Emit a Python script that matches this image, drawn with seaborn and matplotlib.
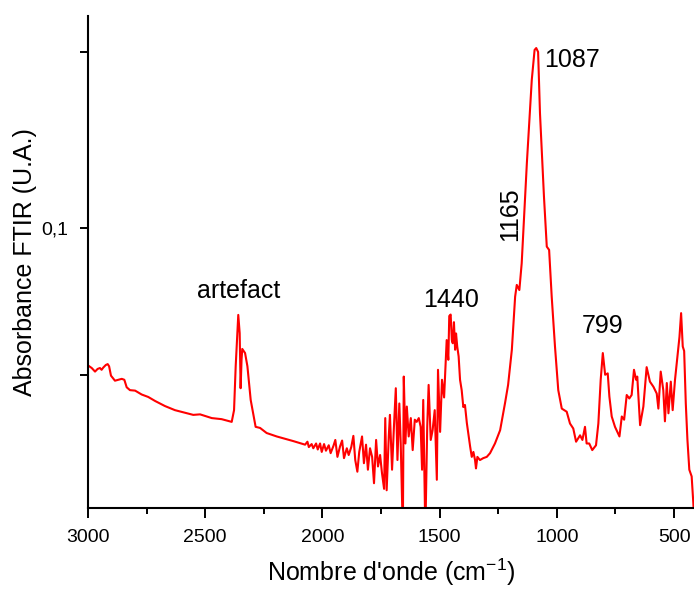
import matplotlib
matplotlib.use("Agg")
import matplotlib.pyplot as plt
from matplotlib.ticker import FixedLocator, FixedFormatter, NullFormatter
import pandas as pd
import seaborn as sns

# ---------------- data ----------------
wavenumber = [
    3000, 2984, 2970, 2959, 2949, 2942, 2935, 2924, 2916, 2910, 2902, 2885,
    2871, 2856, 2845, 2835, 2821, 2799, 2771, 2743, 2714, 2672, 2629, 2586,
    2551, 2522, 2472, 2430, 2387, 2377, 2370, 2359, 2353, 2350, 2349, 2345,
    2342, 2330, 2320, 2306, 2285, 2266, 2238, 2195, 2160, 2124, 2074,
    2064, 2058, 2046, 2039, 2027, 2020, 2010, 2003, 1993, 1985, 1973, 1965,
    1953, 1945, 1936, 1925, 1916, 1908, 1896, 1888, 1877, 1868, 1860, 1851,
    1843, 1831, 1823, 1814, 1806, 1797, 1788, 1780, 1771, 1763, 1754, 1746,
    1737, 1732, 1726, 1717, 1712, 1703, 1695, 1687, 1680, 1672, 1666, 1657,
    1653, 1646, 1640, 1632, 1623, 1615, 1606, 1598, 1589, 1581, 1575, 1570,
    1561, 1553, 1547, 1538, 1530, 1521, 1512, 1507, 1498, 1490, 1481, 1470,
    1463, 1459, 1453, 1448, 1444, 1439, 1434, 1430, 1425, 1419, 1413, 1406,
    1399, 1392, 1384, 1378, 1370, 1363, 1356, 1349, 1345, 1339, 1328, 1314,
    1299, 1285, 1264, 1242, 1221, 1208, 1192, 1178, 1171, 1160, 1150, 1128,
    1107, 1095, 1088, 1080, 1072, 1055, 1043, 1033, 1022, 1008, 994, 979,
    958, 944, 930, 918, 901, 891, 880, 873, 862, 849, 833, 823,
    813, 804, 794, 783, 776, 766, 752, 733, 723, 713, 702, 691,
    681, 671, 662, 657, 645, 631, 617, 603, 588, 574, 567, 557,
    546, 539, 531, 524, 514, 506, 496, 486, 477, 470, 463, 457,
    450, 443, 435, 425, 418, 411,
]
absorbance = [
    0.0582, 0.0576, 0.0568, 0.0574, 0.0576, 0.0572, 0.0577, 0.0583, 0.0585, 0.0580, 0.0559, 0.0548,
    0.0550, 0.0552, 0.0550, 0.0534, 0.0528, 0.0527, 0.0519, 0.0514, 0.0506, 0.0496, 0.0488, 0.0483,
    0.0479, 0.0480, 0.0473, 0.0471, 0.0466, 0.0488, 0.0580, 0.0710, 0.0661, 0.0568, 0.0532, 0.0595,
    0.0621, 0.0611, 0.0580, 0.0508, 0.0457, 0.0455, 0.0446, 0.0440, 0.0436, 0.0432, 0.0426,
    0.0431, 0.0422, 0.0427, 0.0420, 0.0428, 0.0418, 0.0428, 0.0414, 0.0427, 0.0416, 0.0425, 0.0412,
    0.0424, 0.0434, 0.0406, 0.0423, 0.0433, 0.0404, 0.0420, 0.0409, 0.0422, 0.0441, 0.0401, 0.0383,
    0.0414, 0.0440, 0.0396, 0.0426, 0.0386, 0.0420, 0.0406, 0.0366, 0.0434, 0.0391, 0.0409, 0.0381,
    0.0358, 0.0473, 0.0356, 0.0440, 0.0479, 0.0386, 0.0457, 0.0532, 0.0401, 0.0501, 0.0428, 0.0300,
    0.0557, 0.0428, 0.0495, 0.0440, 0.0473, 0.0417, 0.0470, 0.0466, 0.0473, 0.0457, 0.0386, 0.0508,
    0.0300, 0.0457, 0.0539, 0.0434, 0.0451, 0.0488, 0.0371, 0.0572, 0.0448, 0.0550, 0.0513, 0.0643,
    0.0595, 0.0707, 0.0711, 0.0643, 0.0635, 0.0690, 0.0619, 0.0660, 0.0627, 0.0603, 0.0550, 0.0528,
    0.0494, 0.0498, 0.0464, 0.0446, 0.0423, 0.0406, 0.0414, 0.0401, 0.0388, 0.0406, 0.0401, 0.0404,
    0.0406, 0.0412, 0.0428, 0.0451, 0.0502, 0.0539, 0.0619, 0.0763, 0.0799, 0.0783, 0.0870, 0.1290,
    0.1791, 0.2015, 0.2030, 0.1999, 0.1571, 0.1131, 0.0929, 0.0917, 0.0763, 0.0627, 0.0528, 0.0491,
    0.0485, 0.0463, 0.0454, 0.0431, 0.0442, 0.0434, 0.0457, 0.0428, 0.0428, 0.0417, 0.0425, 0.0463,
    0.0550, 0.0611, 0.0561, 0.0564, 0.0515, 0.0476, 0.0457, 0.0440, 0.0476, 0.0470, 0.0518, 0.0511,
    0.0518, 0.0572, 0.0550, 0.0557, 0.0460, 0.0495, 0.0578, 0.0546, 0.0535, 0.0521, 0.0491, 0.0568,
    0.0528, 0.0467, 0.0543, 0.0482, 0.0546, 0.0488, 0.0550, 0.0601, 0.0651, 0.0715, 0.0627, 0.0616,
    0.0501, 0.0434, 0.0386, 0.0376, 0.0339, 0.0300,
]

x_major_ticks = [3000, 2500, 2000, 1500, 1000, 500]
x_minor_ticks = [2750, 2250, 1750, 1250, 750]
y_major_ticks = [0.1]
y_major_labels = ["0,1"]
y_minor_ticks = [0.2, 0.056]

annotation_texts = ["artefact", "1440", "1087", "799"]
annotation_x = [2358, 1451, 937, 807]
annotation_y = [0.0759, 0.0733, 0.1885, 0.0661]
rotated_text = "1165"
rotated_x = 1200
rotated_y = 0.1055

# ---------------- style ----------------
sns.set_style("ticks")
plt.rcParams["font.family"] = ["Liberation Sans", "DejaVu Sans"]
plt.rcParams["mathtext.fontset"] = "custom"
plt.rcParams["mathtext.rm"] = "Liberation Sans"
plt.rcParams["mathtext.it"] = "Liberation Sans"
plt.rcParams["mathtext.default"] = "regular"
for k in ["axes.edgecolor", "xtick.color", "ytick.color", "text.color", "axes.labelcolor"]:
    plt.rcParams[k] = "black"

fig = plt.figure(figsize=(6.94, 5.89), dpi=100)
ax = fig.add_axes([88 / 694, 81 / 589, 606 / 694, 492 / 589])

df = pd.DataFrame({"wavenumber": wavenumber, "absorbance": absorbance})
sns.lineplot(data=df, x="wavenumber", y="absorbance", sort=False, estimator=None,
             color="#ff0000", linewidth=1.5, ax=ax)

ax.set_yscale("log")
ax.set_xlim(3000, 415)
ax.set_ylim(0.0332, 0.2303)

ax.xaxis.set_major_locator(FixedLocator(x_major_ticks))
ax.xaxis.set_major_formatter(FixedFormatter([str(t) for t in x_major_ticks]))
ax.xaxis.set_minor_locator(FixedLocator(x_minor_ticks))
ax.xaxis.set_minor_formatter(NullFormatter())
ax.yaxis.set_major_locator(FixedLocator(y_major_ticks))
ax.yaxis.set_major_formatter(FixedFormatter(y_major_labels))
ax.yaxis.set_minor_locator(FixedLocator(y_minor_ticks))
ax.yaxis.set_minor_formatter(NullFormatter())

ax.tick_params(axis="both", which="major", direction="out", width=1.4, labelsize=14, pad=8)
ax.tick_params(axis="x", which="major", length=7)
ax.tick_params(axis="x", which="minor", direction="out", length=4.5, width=1.4)
ax.tick_params(axis="y", which="major", length=6)
ax.tick_params(axis="y", which="minor", direction="out", length=6, width=1.4)

for s in ["top", "right"]:
    ax.spines[s].set_visible(False)
for s in ["left", "bottom"]:
    ax.spines[s].set_linewidth(1.5)

ax.set_xlabel(r"Nombre d'onde (cm$^{-1}$)", fontsize=18, labelpad=8)
ax.set_ylabel("Absorbance FTIR (U.A.)", fontsize=18, labelpad=3)

for t, x, y in zip(annotation_texts, annotation_x, annotation_y):
    ax.text(x, y, t, fontsize=18, ha="center", va="baseline")
ax.text(rotated_x, rotated_y, rotated_text, fontsize=18, rotation=90, ha="center", va="center")

fig.savefig("out.png", dpi=100)
